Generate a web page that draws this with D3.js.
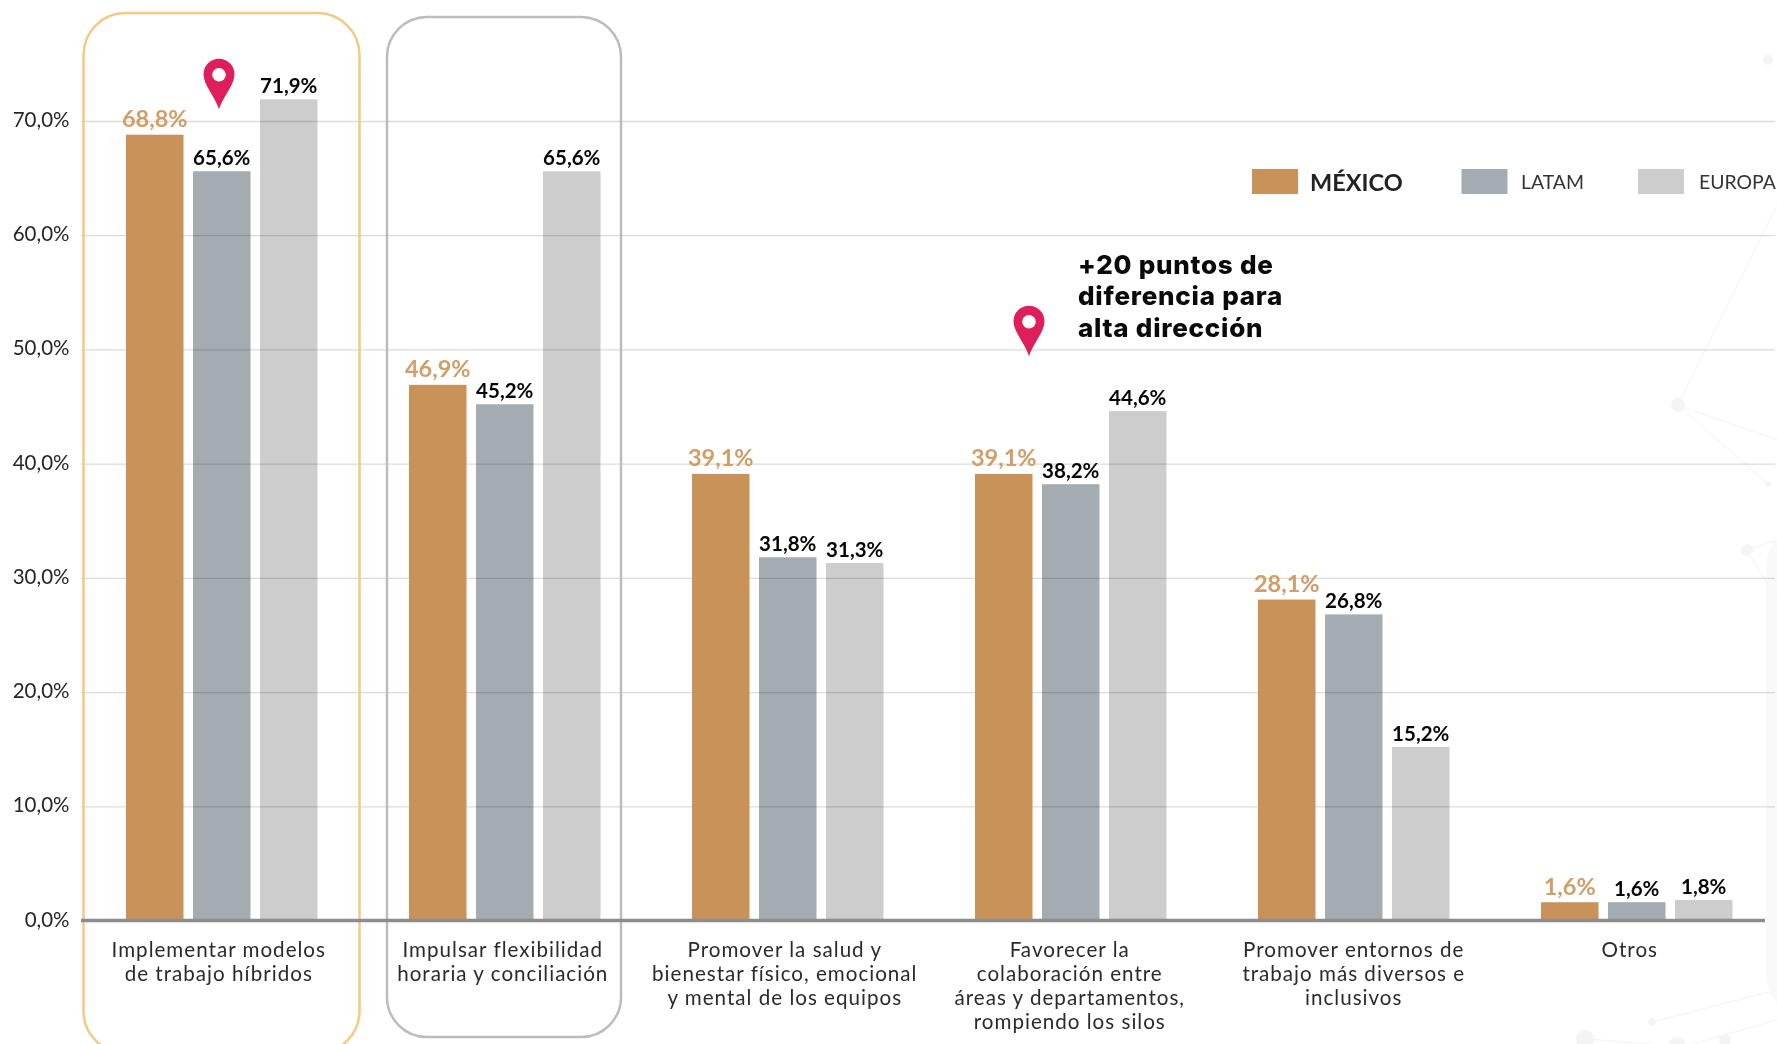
<!DOCTYPE html>
<html><head><meta charset="utf-8">
<script src="https://cdn.jsdelivr.net/npm/d3@7/dist/d3.min.js"></script>
<style>html,body{margin:0;padding:0;background:#fff;overflow:hidden}svg{display:block}text{font-family:Lato,sans-serif}</style>
</head><body><svg id="c" width="1777" height="1044"></svg>
<script>
const categories=[["Implementar modelos","de trabajo híbridos"],["Impulsar flexibilidad","horaria y conciliación"],["Promover la salud y","bienestar físico, emocional","y mental de los equipos"],["Favorecer la","colaboración entre","áreas y departamentos,","rompiendo los silos"],["Promover entornos de","trabajo más diversos e","inclusivos"],["Otros"]];
const mexico=[68.8,46.9,39.1,39.1,28.1,1.6];
const latam=[65.6,45.2,31.8,38.2,26.8,1.6];
const europa=[71.9,65.6,31.3,44.6,15.2,1.8];
const seriesNames=["MÉXICO","LATAM","EUROPA"];
const yTicks=[0,10,20,30,40,50,60,70];
const note=["+20 puntos de","diferencia para","alta dirección"];

const colors={"MÉXICO":"#c99259","LATAM":"#a4abb1","EUROPA":"#cdcdcd"};
const seriesValues={"MÉXICO":mexico,"LATAM":latam,"EUROPA":europa};
const fmt=v=>d3.format(".1f")(v).replace(".",",")+"%";
const svg=d3.select("#c");
const idx=d3.range(categories.length);
const y=d3.scaleLinear().domain([0,70]).range([920.5,121]);
const x0=d3.scaleBand().domain(idx).range([126,126+283*6]);
const x1=d3.scaleBand().domain(seriesNames).range([0,191.5]).paddingInner(9.5/67).paddingOuter(0);

// faint background decoration
const deco=svg.append("g");
deco.append("rect").attr("x",1766).attr("y",531).attr("width",60).attr("height",480).attr("rx",36).attr("fill","#f9f9f9");
[[1776,207,1678,405],[1678,405,1777,440],[1678,405,1768,484],[1747,550,1777,540],[1747,550,1777,600],[1652,1022,1777,990],[1585,1039,1652,1044],[1692,1044,1777,1020]].forEach(d=>
 deco.append("line").attr("x1",d[0]).attr("y1",d[1]).attr("x2",d[2]).attr("y2",d[3]).attr("stroke","#f7f7f7").attr("stroke-width",1.5));
[[1678,405,7],[1768,484,3],[1747,550,6],[1768,60,5],[1585,1039,9],[1652,1022,4],[1677,1046,9],[1725,1040,6]].forEach(d=>
 deco.append("circle").attr("cx",d[0]).attr("cy",d[1]).attr("r",d[2]).attr("fill","#f4f4f4"));

function bars(name){
  svg.append("g").selectAll("rect").data(seriesValues[name]).join("rect")
    .attr("x",(d,i)=>x0(i)+x1(name)).attr("width",x1.bandwidth())
    .attr("y",d=>y(d)).attr("height",d=>y(0)-y(d)).attr("fill",colors[name]);
}
bars("LATAM");bars("EUROPA");

// gridlines
svg.append("g").style("mix-blend-mode","multiply").selectAll("line").data(yTicks.filter(t=>t>0)).join("line")
  .attr("x1",81).attr("x2",1775).attr("y1",d=>y(d)+.5).attr("y2",d=>y(d)+.5)
  .attr("stroke","#dadbdd").attr("stroke-width",1.3);
bars("MÉXICO");

// highlight frames
svg.append("rect").attr("x",83.5).attr("y",13).attr("width",276).attr("height",1040).attr("rx",42).attr("fill","none").attr("stroke","#f1cb83").attr("stroke-width",2.5);
svg.append("rect").attr("x",387).attr("y",17).attr("width",234).attr("height",1020).attr("rx",40).attr("fill","none").attr("stroke","#bcbcbc").attr("stroke-width",2.5);

// baseline
svg.append("line").attr("x1",81).attr("x2",1765).attr("y1",y(0)).attr("y2",y(0)).attr("stroke","#8d8d8d").attr("stroke-width",3.5);

// y axis
const ax=svg.append("g").attr("transform","translate(69.5,-1)").call(d3.axisLeft(y).tickValues(yTicks).tickSize(0).tickPadding(0).tickFormat(fmt));
ax.select(".domain").remove();
ax.selectAll("text").attr("font-family","Lato").attr("font-size",20.5).attr("fill","#262626");

// value labels
seriesNames.forEach(name=>{
  const isMx=name==="MÉXICO";
  svg.append("g").selectAll("text").data(seriesValues[name]).join("text")
    .attr("x",(d,i)=>x0(i)+x1(name)+x1.bandwidth()/2).attr("y",d=>y(d)-(isMx?7.5:6))
    .attr("text-anchor","middle").attr("font-weight",700).attr("font-size",isMx?23.5:20.5)
    .attr("fill",isMx?"#cf9e69":"#050505").text(fmt);
});

// category labels
const nudges=[-3,-2,-3,-1,0,-7];
svg.append("g").selectAll("text").data(categories).join("text")
  .attr("transform",(d,i)=>`translate(${x0(i)+x1.range()[1]/2+nudges[i]},957)`)
  .attr("text-anchor","middle").attr("font-size",20.6).attr("letter-spacing","1").attr("fill","#2a2a2a")
  .selectAll("tspan").data(d=>d).join("tspan").attr("x",0).attr("dy",(d,i)=>i?24:0).text(d=>d);

// pins
[[219,58.7],[1029,305.7]].forEach(p=>{
  const g=svg.append("g").attr("transform",`translate(${p[0]},${p[1]})`);
  g.append("path").attr("d","M0,50.5 C-4,38 -15.5,26 -15.5,15.5 A15.5,15.5 0 1 1 15.5,15.5 C15.5,26 4,38 0,50.5 Z").attr("fill","#de1f5c");
  g.append("ellipse").attr("cx",0).attr("cy",16).attr("rx",6.8).attr("ry",6.8).attr("fill","#fff");
});

// annotation
svg.append("g").selectAll("text").data(note).join("text")
  .attr("x",1078).attr("y",(d,i)=>273.5+i*31.7)
  .attr("font-size",26).attr("font-weight",800).attr("letter-spacing",".75").attr("style","font-family:Inter").attr("fill","#0a0a0a").text(d=>d);

// legend
const legX=[1252,1461.5,1638], legTx=[1310,1521,1699];
seriesNames.forEach((n,i)=>{
  svg.append("rect").attr("x",legX[i]).attr("y",169).attr("width",46).attr("height",25).attr("fill",colors[n]);
  svg.append("text").attr("x",legTx[i]).attr("y",i?189:191).attr("font-size",i?19.4:23.5).attr("font-weight",i?400:700)
    .attr("fill",i?"#333":"#222").text(n);
});
</script></body></html>
